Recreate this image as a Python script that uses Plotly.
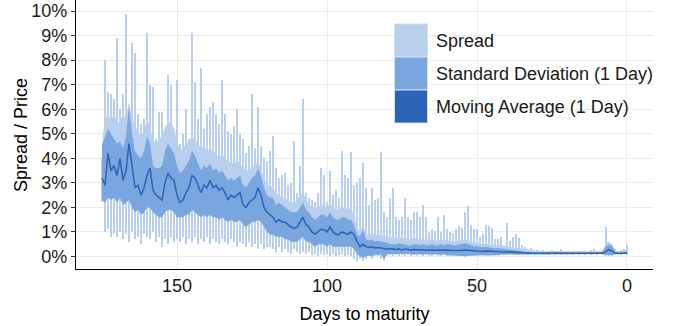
import plotly.graph_objects as go

# ---------------- data (values in %), days to maturity 175 -> 0 ----------------
days = list(range(175, -1, -1))

moving_avg = [
    3.2, 2.9, 4.2, 3.5, 3.7, 3.3, 4.0, 3.1, 3.5, 4.6,
    3.7, 2.8, 2.9, 2.5, 2.8, 3.3, 3.6, 2.7, 2.5, 2.4,
    2.3, 3.0, 3.4, 3.2, 3.1, 2.5,
    2.2, 2.3, 2.6, 2.8, 3.3, 3.2, 2.9, 2.6, 2.9, 2.8,
    3.1, 2.8, 2.9, 2.7, 2.8, 2.6, 2.3, 2.5, 2.4, 2.5,
    2.6, 2.1, 2.0, 2.2, 2.3, 2.4, 2.8, 2.5, 2.0, 1.8,
    1.7, 1.6, 1.4, 1.5, 1.4, 1.4, 1.3, 1.2, 1.15, 1.2,
    1.4, 1.6, 1.3, 1.2, 1.0, 0.9, 1.0, 1.1, 1.1, 1.0,
    1.2, 1.0, 0.9, 0.9, 1.0, 0.95, 0.9,
    1.0, 0.9, 0.6, 0.4, 0.5, 0.4, 0.37, 0.4, 0.35, 0.37,
    0.35, 0.33, 0.3, 0.32, 0.3, 0.28, 0.3, 0.27, 0.3, 0.28,
    0.26, 0.28, 0.27, 0.25, 0.27, 0.26, 0.25, 0.27, 0.24, 0.26,
    0.25, 0.24,
    0.24, 0.25, 0.24, 0.23, 0.25, 0.24, 0.26, 0.25, 0.23, 0.22,
    0.23, 0.22, 0.2, 0.22, 0.21, 0.2, 0.19, 0.2, 0.19, 0.18,
    0.19, 0.18, 0.17, 0.18, 0.16, 0.15, 0.15, 0.14, 0.14, 0.13,
    0.13,
    0.13, 0.12, 0.13, 0.12, 0.12, 0.13, 0.12, 0.12, 0.11, 0.12,
    0.12, 0.11, 0.12, 0.12, 0.11, 0.12, 0.12, 0.12, 0.13, 0.12,
    0.12, 0.13, 0.2, 0.28, 0.22, 0.14, 0.12, 0.12, 0.13, 0.14,
]

sd_upper = [
    4.5, 4.9, 5.2, 5.0, 4.8, 4.6, 4.7, 4.4, 4.9, 6.1,
    5.0, 4.3, 4.1, 4.0, 4.3, 4.9, 4.6, 3.7, 3.6, 3.6,
    3.7, 4.3, 4.6, 4.4, 4.2, 3.7,
    3.4, 3.5, 3.7, 3.9, 4.3, 4.1, 3.8, 3.5, 3.7, 3.6,
    3.8, 3.5, 3.6, 3.4, 3.5, 3.3, 3.1, 3.2, 3.1, 3.2,
    3.3, 2.9, 2.8, 3.0, 3.2, 3.3, 3.6, 3.3, 2.8, 2.5,
    2.4, 2.4, 2.1, 2.2, 2.1, 2.0, 1.9, 1.8, 1.8, 1.8,
    2.0, 2.2, 1.9, 1.8, 1.6, 1.5, 1.6, 1.7, 1.7, 1.6,
    1.8, 1.6, 1.5, 1.5, 1.6, 1.6, 1.5,
    1.5, 1.3, 0.9, 0.8, 1.1, 0.7, 0.65, 0.7, 0.6, 0.65,
    0.6, 0.6, 0.55, 0.5, 0.5, 0.5, 0.55, 0.5, 0.5, 0.45,
    0.45, 0.5, 0.5, 0.45, 0.5, 0.45, 0.45, 0.5, 0.45, 0.45,
    0.5, 0.45,
    0.5, 0.5, 0.45, 0.45, 0.5, 0.5, 0.55, 0.5, 0.45, 0.42,
    0.42, 0.4, 0.38, 0.4, 0.38, 0.35, 0.33, 0.35, 0.33, 0.3,
    0.3, 0.28, 0.25, 0.25, 0.22, 0.2, 0.18, 0.17, 0.17, 0.16,
    0.16,
    0.17, 0.16, 0.17, 0.16, 0.17, 0.18, 0.17, 0.16, 0.16, 0.17,
    0.16, 0.16, 0.17, 0.16, 0.16, 0.16, 0.17, 0.17, 0.18, 0.17,
    0.16, 0.2, 0.42, 0.48, 0.44, 0.2, 0.16, 0.17, 0.17, 0.2,
]

sd_lower = [
    2.3, 2.2, 2.4, 2.3, 2.4, 2.2, 2.4, 2.1, 2.2, 2.3,
    2.0, 1.8, 1.9, 1.7, 1.8, 2.0, 2.0, 1.8, 1.7, 1.6,
    1.6, 1.8, 1.9, 1.9, 1.8, 1.6,
    1.6, 1.6, 1.7, 1.7, 1.9, 1.8, 1.7, 1.6, 1.7, 1.6,
    1.7, 1.6, 1.6, 1.5, 1.6, 1.5, 1.4, 1.5, 1.4, 1.4,
    1.5, 1.3, 1.2, 1.3, 1.4, 1.4, 1.5, 1.4, 1.2, 1.0,
    0.9, 0.9, 0.8, 0.8, 0.8, 0.7, 0.7, 0.6, 0.6, 0.6,
    0.7, 0.8, 0.6, 0.6, 0.5, 0.4, 0.5, 0.5, 0.5, 0.4,
    0.5, 0.4, 0.4, 0.4, 0.4, 0.4, 0.4,
    0.4, 0.3, 0.1, 0.0, -0.05, 0.0, 0.05, 0.0, 0.1, 0.05,
    0.1, -0.1, 0.1, 0.12, 0.1, 0.12, 0.1, 0.1, 0.12, 0.1,
    0.1, 0.08, 0.1, 0.1, 0.08, 0.1, 0.1, 0.08, 0.1, 0.08,
    0.07, 0.1,
    0.05, 0.05, 0.05, 0.04, 0.03, 0.04, 0.02, 0.03, 0.04, 0.05,
    0.05, 0.06, 0.06, 0.05, 0.06, 0.07, 0.07, 0.06, 0.07, 0.08,
    0.08, 0.09, 0.1, 0.1, 0.1, 0.1, 0.11, 0.11, 0.11, 0.11,
    0.11,
    0.1, 0.1, 0.1, 0.1, 0.1, 0.1, 0.1, 0.1, 0.1, 0.1,
    0.1, 0.1, 0.1, 0.1, 0.1, 0.1, 0.1, 0.1, 0.1, 0.1,
    0.1, 0.1, 0.06, 0.05, 0.06, 0.1, 0.1, 0.1, 0.1, 0.1,
]

# upper edge of the dense light (typical spread) region
spread_upper = [
    4.6, 5.6, 5.8, 5.5, 5.9, 5.4, 5.5, 5.8, 5.6, 6.3,
    5.6, 5.4, 5.0, 4.9, 5.1, 5.6, 5.3, 4.7, 4.6, 4.8,
    4.9, 5.3, 5.4, 5.5, 5.2, 4.7,
    4.3, 4.4, 4.6, 4.7, 4.9, 4.8, 4.6, 4.4, 4.5, 4.3,
    4.4, 4.3, 4.2, 4.0, 4.2, 4.0, 3.9, 3.8, 3.8, 3.9,
    3.8, 3.6, 3.5, 3.5, 3.7, 3.7, 3.9, 3.6, 3.2, 2.9,
    2.9, 2.8, 2.6, 2.5, 2.4, 2.4, 2.3, 2.2, 2.2, 2.3,
    2.5, 2.6, 2.3, 2.1, 2.0, 2.0, 2.0, 2.1, 2.1, 2.0,
    2.2, 2.0, 1.9, 1.9, 2.0, 2.0, 1.9,
    2.0, 1.6, 1.2, 1.0, 1.3, 0.9, 0.9, 0.95, 0.85, 0.9,
    0.85, 0.85, 0.8, 0.8, 0.75, 0.75, 0.8, 0.75, 0.75, 0.7,
    0.7, 0.75, 0.7, 0.7, 0.7, 0.65, 0.7, 0.7, 0.65, 0.65,
    0.7, 0.65,
    0.65, 0.65, 0.6, 0.6, 0.65, 0.65, 0.7, 0.65, 0.6, 0.55,
    0.55, 0.52, 0.5, 0.52, 0.5, 0.47, 0.45, 0.47, 0.45, 0.42,
    0.42, 0.4, 0.36, 0.36, 0.32, 0.3, 0.27, 0.25, 0.25, 0.23,
    0.22,
    0.22, 0.21, 0.22, 0.21, 0.22, 0.23, 0.22, 0.21, 0.21, 0.22,
    0.21, 0.21, 0.22, 0.21, 0.21, 0.21, 0.22, 0.22, 0.23, 0.22,
    0.21, 0.25, 0.55, 0.6, 0.5, 0.25, 0.21, 0.22, 0.22, 0.25,
]

spread_max = [
    4.0, 8.0, 6.7, 6.6, 6.4, 8.9, 6.0, 6.6, 9.9, 5.8,
    8.7, 8.3, 5.8, 5.4, 5.6, 9.1, 7.0, 6.9, 4.8, 5.9,
    5.9, 4.6, 7.4, 7.0, 5.2, 7.2,
    4.6, 5.0, 6.0, 4.8, 9.1, 7.1, 5.6, 7.7, 5.2, 5.8,
    6.1, 6.3, 5.8, 5.4, 7.2, 5.8, 5.1, 5.0, 5.3, 6.0,
    5.0, 4.8, 4.2, 4.5, 6.6, 4.4, 6.1, 4.5, 4.0, 3.9,
    4.3, 4.9, 3.6, 3.2, 3.3, 3.4, 2.9, 3.0, 4.7, 2.6,
    3.7, 6.4, 2.6, 2.4, 2.3, 2.2, 2.6, 3.6, 3.3, 2.2,
    3.5, 2.5, 2.7, 2.4, 4.3, 3.3, 3.2,
    4.25, 2.9, 3.0, 3.2, 3.8, 2.8, 2.1, 2.8, 2.3, 2.4,
    4.25, 1.8, 1.6, 2.4, 2.8, 1.6, 1.5, 1.6, 2.4, 1.6,
    1.5, 1.8, 1.8, 1.6, 2.1, 1.6, 1.0, 1.1, 1.05, 1.6,
    1.0, 1.7,
    1.1, 1.0, 0.95, 1.1, 1.24, 1.15, 1.8, 2.04, 1.3, 1.1,
    1.1, 0.8, 0.9, 1.3, 1.25, 1.15, 0.7, 0.7, 0.8, 0.4,
    1.35, 0.65, 0.8, 0.9, 0.75, 0.45, 0.4, 0.3, 0.35, 0.28,
    0.25,
    0.22, 0.25, 0.2, 0.22, 0.25, 0.22, 0.2, 0.3, 0.22, 0.2,
    0.2, 0.22, 0.2, 0.2, 0.22, 0.2, 0.2, 0.25, 0.3, 0.22,
    0.2, 0.22, 1.22, 0.5, 0.45, 0.3, 0.22, 0.25, 0.3, 0.45,
]

spread_min = [
    2.2, 1.0, 1.1, 0.8, 0.9, 0.8, 1.0, 0.7, 0.9, 0.6,
    1.0, 0.7, 0.8, 0.5, 0.9, 0.8, 0.7, 1.0, 0.6, 0.8,
    0.4, 0.7, 0.5, 0.8, 0.6, 0.7,
    0.6, 0.8, 0.5, 0.7, 0.6, 0.8, 0.5, 0.7, 0.6, 0.8,
    0.5, 0.7, 0.6, 0.5, 0.7, 0.6, 0.5, 0.7, 0.6, 0.4,
    0.6, 0.5, 0.4, 0.6, 0.4, 0.5, 0.3, 0.5, 0.3, 0.4,
    0.4, 0.3, 0.2, 0.4, 0.2, 0.3, 0.2, 0.1, 0.3, 0.2,
    0.1, 0.2, 0.1, 0.2, 0.05, 0.1, 0.0, 0.1, 0.05, 0.1,
    0.0, 0.1, 0.0, 0.05, 0.1, 0.0, 0.05,
    0.0, -0.1, -0.2, -0.1, -0.2, -0.1, 0.0, -0.1, 0.0, 0.0,
    -0.1, -0.2, 0.0, 0.05, 0.0, 0.05, 0.0, 0.05, 0.0, 0.05,
    0.0, 0.05, 0.0, 0.05, 0.0, 0.05, 0.03, 0.0, 0.05, 0.0,
    0.03, 0.05,
    0.0, 0.02, 0.0, 0.02, 0.0, 0.0, -0.02, 0.0, 0.02, 0.0,
    0.02, 0.03, 0.02, 0.0, 0.03, 0.04, 0.03, 0.04, 0.05, 0.05,
    0.06, 0.05, 0.07, 0.06, 0.08, 0.08, 0.09, 0.08, 0.09, 0.1,
    0.09,
    0.09, 0.08, 0.09, 0.08, 0.09, 0.08, 0.09, 0.08, 0.09, 0.08,
    0.09, 0.08, 0.09, 0.08, 0.09, 0.08, 0.09, 0.08, 0.09, 0.08,
    0.09, 0.08, 0.03, 0.02, 0.03, 0.08, 0.09, 0.08, 0.09, 0.08,
]

y_tick_vals = list(range(0, 11))
y_tick_text = [f"{v}%" for v in y_tick_vals]
x_tick_vals = [150, 100, 50, 0]

legend_names = ["Spread", "Standard Deviation (1 Day)", "Moving Average (1 Day)"]

for arr in (moving_avg, sd_upper, sd_lower, spread_upper, spread_max, spread_min):
    assert len(arr) == len(days), len(arr)

# ---------------- style ----------------
C_LIGHT = "#b8cfee"
C_MED = "#7aa6df"
C_DARK = "#2b63b7"
FONT = "Liberation Sans, Arial, Helvetica, sans-serif"

W, H = 683, 326
ML, MR, MT, MB = 76, 30, 0, 57
PW, PH = W - ML - MR, H - MT - MB

fig = go.Figure()

# spread: one vertical bar per observation from min to max
fig.add_trace(go.Bar(
    x=days, base=spread_min,
    y=[hi - lo for hi, lo in zip(spread_max, spread_min)],
    width=0.62, marker=dict(color=C_LIGHT, line=dict(width=0)),
    showlegend=False, hoverinfo="skip",
))

# dense light spread region
fig.add_trace(go.Scatter(
    x=days + days[::-1], y=spread_upper + sd_lower[::-1],
    fill="toself", fillcolor=C_LIGHT, line=dict(width=0),
    mode="lines", showlegend=False, hoverinfo="skip",
))

# standard deviation band
fig.add_trace(go.Scatter(
    x=days + days[::-1], y=sd_upper + sd_lower[::-1],
    fill="toself", fillcolor=C_MED, line=dict(width=0),
    mode="lines", showlegend=False, hoverinfo="skip",
))

# moving average
fig.add_trace(go.Scatter(
    x=days, y=moving_avg, mode="lines",
    line=dict(color=C_DARK, width=1.5),
    showlegend=False,
))

# ---------------- legend (drawn manually for ggplot-like keys) ----------------
def px_x(p):
    return (p - ML) / PW

def px_y(p):
    return 1 - (p - MT) / PH

shapes = [dict(
    type="rect", xref="paper", yref="paper",
    x0=px_x(388), x1=px_x(683), y0=px_y(5), y1=px_y(128),
    fillcolor="white", line=dict(width=0), layer="between",
)]
annotations = []
key_colors = [C_LIGHT, C_MED, C_DARK]
key_top = 24
key_h = 33
for i, (name, col) in enumerate(zip(legend_names, key_colors)):
    t = key_top + i * key_h
    shapes.append(dict(
        type="rect", xref="paper", yref="paper",
        x0=px_x(394.5), x1=px_x(427.5), y0=px_y(t + key_h), y1=px_y(t),
        fillcolor=col, line=dict(color="#d7dde8", width=1), layer="above",
    ))
    annotations.append(dict(
        xref="paper", yref="paper", x=px_x(434), y=px_y(t + key_h / 2 + 0.5),
        text=name, showarrow=False, xanchor="left", yanchor="middle",
        font=dict(family=FONT, size=18, color="#1a1a1a"),
    ))

# y-axis title placed as rotated text
annotations.append(dict(
    xref="paper", yref="paper", x=px_x(21), y=px_y(135),
    text="Spread / Price", textangle=-90, showarrow=False,
    xanchor="center", yanchor="middle",
    font=dict(family=FONT, size=18, color="#000"),
))

fig.update_layout(
    width=W, height=H,
    margin=dict(l=ML, r=MR, t=MT, b=MB, pad=0),
    paper_bgcolor="white", plot_bgcolor="white",
    font=dict(family=FONT, size=18, color="#1a1a1a"),
    bargap=0, showlegend=False,
    shapes=shapes, annotations=annotations,
)

fig.update_xaxes(
    range=[183.67, -8.67], tickvals=x_tick_vals,
    showgrid=True, gridcolor="#ebebeb", gridwidth=1.2,
    showline=True, linecolor="black", linewidth=1.3,
    zeroline=False, ticks="", ticklabelstandoff=0,
    tickfont=dict(family=FONT, size=18, color="#1a1a1a"),
    title=dict(text="Days to maturity", standoff=12,
               font=dict(family=FONT, size=18, color="#000")),
)
fig.update_yaxes(
    range=[-0.51, 10.45], tickvals=y_tick_vals, ticktext=y_tick_text,
    showgrid=True, gridcolor="#ebebeb", gridwidth=1.2,
    showline=True, linecolor="black", linewidth=1.3,
    zeroline=False, ticks="outside", ticklen=4, tickcolor="#333",
    tickwidth=1,
    tickfont=dict(family=FONT, size=18, color="#1a1a1a"),
)

fig.write_html("out.html")
